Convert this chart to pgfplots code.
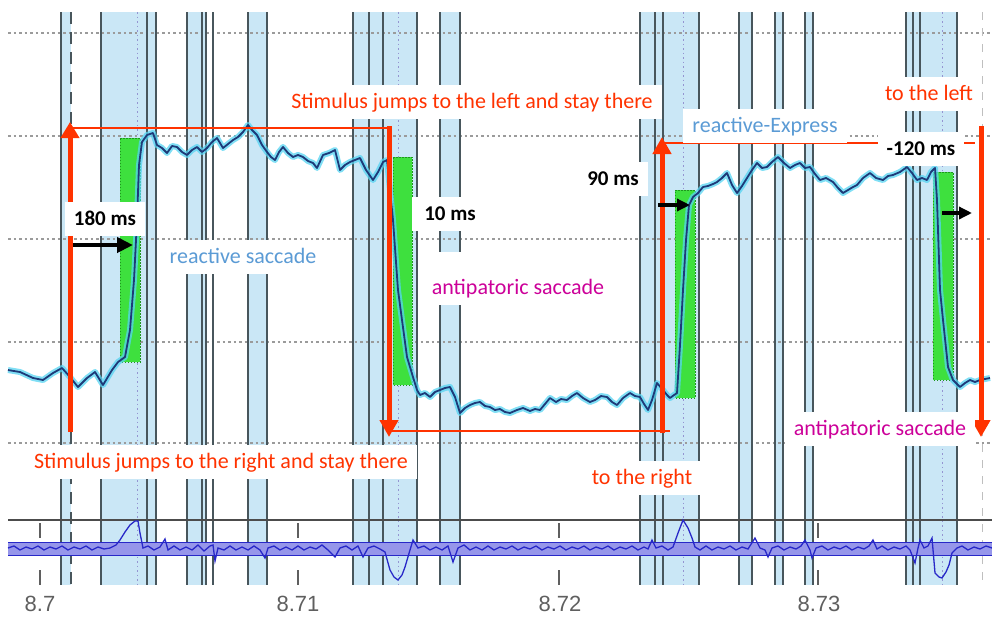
\documentclass[border=0pt]{standalone}
\usepackage{fontspec}
\setmainfont{Carlito}
\newfontfamily\arialfont{Liberation Sans}
\usepackage{pgfplots}
\pgfplotsset{compat=1.18}
\usepackage{pgfplotstable}
\usetikzlibrary{arrows.meta}
\definecolor{bandblue}{RGB}{202,231,246}
\definecolor{vlinec}{RGB}{72,86,92}
\definecolor{gridc}{RGB}{155,155,155}
\definecolor{greenf}{RGB}{62,224,62}
\definecolor{greend}{RGB}{30,150,30}
\definecolor{redc}{RGB}{255,51,0}
\definecolor{bluet}{RGB}{91,155,213}
\definecolor{magt}{RGB}{204,0,153}
\definecolor{tracec}{RGB}{30,58,120}
\definecolor{glowc}{RGB}{85,212,242}
\definecolor{velc}{RGB}{40,40,200}
\definecolor{velband}{RGB}{150,150,234}
\definecolor{tickc}{RGB}{95,95,95}
\tikzset{lab/.style={fill=white, inner xsep=9pt, inner ysep=6pt, anchor=base,
     text height=17pt, text depth=5pt, font=\fontsize{22}{26}\selectfont},
  blab/.style={lab, font=\fontsize{21}{25}\selectfont\bfseries}}

% eye position trace (x in screen px, y in px from top)
\pgfplotstableread{
x y
8 370
20 372
33 378
43 380
53 373
62 368
70 377
78 387
87 378
95 372
103 385
112 370
118 362
125 357
130 330
134 280
137 220
139 165
142 142
147 135
153 133
157 145
162 148
167 153
172 146
177 147
182 152
187 155
192 150
197 147
202 152
207 148
212 142
217 138
223 148
228 144
233 140
238 137
243 132
248 125
252 130
257 135
262 145
267 152
271 157
275 160
279 152
283 147
288 153
293 157
298 155
303 157
308 161
313 163
317 168
323 155
329 153
335 150
340 170
345 165
350 162
355 160
360 158
366 170
373 180
378 172
383 162
387 160
393 220
398 290
402 320
407 357
413 377
417 390
420 395
425 393
430 397
435 392
440 390
445 388
450 387
455 397
460 413
465 408
470 405
475 403
480 402
485 406
490 407
495 410
500 409
505 412
510 413
517 410
523 408
530 411
535 409
540 410
545 404
550 398
556 402
561 399
567 400
572 396
577 393
583 398
590 402
595 400
601 396
607 397
612 402
617 405
623 398
630 393
635 396
640 397
644 404
648 410
652 400
657 383
663 390
667 395
670 398
674 395
677 393
680 345
683 290
686 240
689 205
693 197
698 193
703 187
708 186
713 184
717 182
722 178
727 173
732 185
737 193
742 186
747 178
752 170
757 163
762 168
767 167
772 162
778 157
784 163
790 168
795 165
800 163
805 168
810 167
815 174
820 180
826 178
833 182
838 188
843 193
848 190
853 187
857 185
863 178
870 173
876 178
883 180
888 176
893 175
900 172
907 167
912 173
917 180
922 178
927 180
931 172
935 168
937 200
940 290
943 320
948 367
953 380
957 384
960 387
965 383
970 380
975 382
980 380
985 379
990 378
}\trace

% velocity trace
\pgfplotstableread{
x y
8 548
14 546
20 550
26 547
32 549
38 546
44 550
50 547
56 549
62 546
68 550
74 547
80 549
86 546
92 550
98 547
104 549
110 548
116 545
120 540
125 532
130 525
135 521
138 521
140 533
143 548
148 546
154 550
160 547
165 539
168 550
174 546
180 550
186 547
192 550
198 545
204 551
210 546
213 545
215 561
218 548
224 550
230 546
236 550
242 547
248 550
254 546
260 550
265 558
268 548
274 546
280 550
286 547
292 550
298 546
304 550
310 547
316 549
322 545
328 550
335 557
340 548
346 546
352 550
358 546
363 557
368 548
374 546
380 549
385 552
390 570
394 577
398 580
402 575
405 567
410 550
413 540
418 548
424 546
430 550
436 547
442 550
448 546
453 562
458 548
464 545
470 550
476 547
482 550
488 546
494 550
500 547
506 549
512 546
518 550
524 547
530 549
536 546
542 550
548 547
554 549
560 546
566 550
572 547
578 549
584 546
590 550
596 547
602 549
608 546
614 550
620 547
626 549
632 546
638 550
644 547
648 549
652 540
656 548
662 546
668 550
673 547
678 533
683 520
688 528
692 538
695 547
700 550
706 546
712 550
718 547
724 549
730 546
736 550
742 547
748 549
755 538
760 548
765 550
768 557
772 548
778 546
784 550
790 547
796 549
801 546
805 540
810 550
812 558
816 548
822 546
828 550
834 547
840 549
846 546
852 550
858 547
864 549
869 546
873 540
877 549
882 546
888 550
894 547
900 549
906 546
910 550
915 563
918 548
920 540
924 548
928 546
932 538
935 573
939 577
942 578
946 572
949 565
952 553
957 548
962 546
968 550
974 547
980 549
986 546
992 548
}\velo

\newcommand{\band}[2]{\addplot[fill=bandblue,draw=none] coordinates {(#1,12) (#2,12) (#2,585) (#1,585)} --cycle;}
\newcommand{\vl}[1]{\addplot[vlinec,line width=2.6pt] coordinates {(#1,12) (#1,585)};}
\newcommand{\dl}[1]{\addplot[gray!60!blue!60,line width=1pt,dash pattern=on 1.5pt off 3pt] coordinates {(#1,12) (#1,585)};}
\newcommand{\gl}[1]{\addplot[gridc,line width=1.6pt,dash pattern=on 2.5pt off 3pt] coordinates {(8,#1) (992,#1)};}
\newcommand{\grect}[4]{\addplot[fill=greenf,draw=greend,line width=1pt,dash pattern=on 1.5pt off 1.5pt] coordinates {(#1,#3) (#2,#3) (#2,#4) (#1,#4)} --cycle;}

\begin{document}
\begin{tikzpicture}
\begin{axis}[
  scale only axis, width=992pt, height=616pt,
  xmin=0, xmax=992, ymin=0, ymax=616, y dir=reverse,
  hide axis, clip=false,
]
% light blue bands
\band{61}{71}
\band{101}{156}
\band{187}{206}
\band{248}{267}
\band{353}{417}
\band{440}{460}
\band{640}{699}
\band{739}{752}
\band{775}{783}
\band{805}{813}
\band{906}{957}
% dotted grid lines
\gl{33}
\gl{136}
\gl{239}
\gl{342}
\gl{443}
% dotted markers inside bands
\dl{137}
\dl{398}
\dl{683}
\dl{942}
\addplot[gray!50,line width=1pt,dash pattern=on 8pt off 8pt] coordinates {(982,12) (982,585)};
% dark vertical lines
\vl{61}
\vl{101}
\vl{147}
\vl{156}
\vl{187}
\vl{202}
\vl{206}
\vl{213}
\vl{248}
\vl{267}
\vl{353}
\vl{369}
\vl{383}
\vl{417}
\vl{440}
\vl{460}
\vl{640}
\vl{655}
\vl{663}
\vl{699}
\vl{739}
\vl{752}
\vl{775}
\vl{783}
\vl{805}
\vl{813}
\vl{906}
\vl{913}
\vl{920}
\vl{957}
\addplot[vlinec,line width=2.6pt,dash pattern=on 12pt off 8pt] coordinates {(71,12) (71,585)};
% green saccade boxes
\grect{120}{140}{138}{362}
\grect{393}{412}{157}{385}
\grect{675}{695}{190}{398}
\grect{933}{953}{172}{380}
% eye trace
\addplot[glowc,opacity=0.75,line width=6pt,line join=round] table[x=x,y=y]{\trace};
\addplot[tracec,line width=1.8pt,line join=round] table[x=x,y=y]{\trace};
% bottom panel
\addplot[gray!60!black,line width=2.4pt] coordinates {(8,520) (992,520)};
\addplot[fill=velband,draw=none] coordinates {(8,542) (992,542) (992,555) (8,555)} --cycle;
\addplot[velc,line width=1pt] coordinates {(8,542) (992,542)};
\addplot[velc,line width=1pt] coordinates {(8,555) (992,555)};
\addplot[velc,line width=1.3pt] table[x=x,y=y]{\velo};
% ticks
\addplot[tickc,line width=1.6pt] coordinates {(40,523) (40,538)};
\addplot[tickc,line width=1.6pt] coordinates {(40,570) (40,585)};
\addplot[tickc,line width=1.6pt] coordinates {(298,523) (298,538)};
\addplot[tickc,line width=1.6pt] coordinates {(298,570) (298,585)};
\addplot[tickc,line width=1.6pt] coordinates {(559,523) (559,538)};
\addplot[tickc,line width=1.6pt] coordinates {(559,570) (559,585)};
\addplot[tickc,line width=1.6pt] coordinates {(818,523) (818,538)};
\addplot[tickc,line width=1.6pt] coordinates {(818,570) (818,585)};
% red stimulus lines and arrows
\addplot[redc,line width=1.5pt] coordinates {(70,128) (389,128)};
\addplot[redc,line width=1.5pt] coordinates {(389,431) (670,431)};
\addplot[redc,line width=1.5pt] coordinates {(662,143) (975,143)};
\addplot[redc,line width=5pt,-{Triangle[width=18pt,length=16pt]}] coordinates {(70,432) (70,122)};
\addplot[redc,line width=5pt,-{Triangle[width=18pt,length=17pt]}] coordinates {(389,126) (389,437)};
\addplot[redc,line width=5pt,-{Triangle[width=18pt,length=17pt]}] coordinates {(662,433) (662,137)};
\addplot[redc,line width=5pt,-{Triangle[width=18pt,length=17pt]}] coordinates {(981,126) (981,437)};
% black latency arrows
\addplot[black,line width=4pt,-{Triangle[width=15pt,length=16pt]}] coordinates {(73,245) (133,245)};
\addplot[black,line width=3.5pt,-{Triangle[width=12pt,length=13pt]}] coordinates {(658,205) (690,205)};
\addplot[black,line width=3.5pt,-{Triangle[width=12pt,length=13pt]}] coordinates {(942,213) (972,213)};
% labels
\node[lab,text=redc] at (axis cs:472,108) {Stimulus jumps to the left and stay there};
\node[blab,text=black] at (axis cs:105,225) {180 ms};
\node[lab,text=bluet] at (axis cs:243,263) {reactive saccade};
\node[blab,text=black,inner xsep=12pt] at (axis cs:450,220) {10 ms};
\node[lab,text=magt,text height=36pt] at (axis cs:518,294) {antipatoric saccade};
\node[lab,text=redc] at (axis cs:221,468) {Stimulus jumps to the right and stay there};
\node[lab,text=bluet] at (axis cs:765,132) {reactive-Express};
\node[blab,text=black] at (axis cs:613,185) {90 ms};
\node[blab,text=black] at (axis cs:921,155) {-120 ms};
\node[lab,text=redc] at (axis cs:929,100) {to the left};
\node[lab,text=redc] at (axis cs:642,484) {to the right};
\node[lab,text=magt] at (axis cs:880,435) {antipatoric saccade};
% time axis labels
\node[text=tickc,font=\arialfont\fontsize{22}{24}\selectfont,anchor=base] at (axis cs:40,611) {8.7};
\node[text=tickc,font=\arialfont\fontsize{22}{24}\selectfont,anchor=base] at (axis cs:298,611) {8.71};
\node[text=tickc,font=\arialfont\fontsize{22}{24}\selectfont,anchor=base] at (axis cs:560,611) {8.72};
\node[text=tickc,font=\arialfont\fontsize{22}{24}\selectfont,anchor=base] at (axis cs:819,611) {8.73};
\end{axis}
\pgfresetboundingbox
\useasboundingbox (0,0) rectangle (992pt,616pt);
\end{tikzpicture}
\end{document}
